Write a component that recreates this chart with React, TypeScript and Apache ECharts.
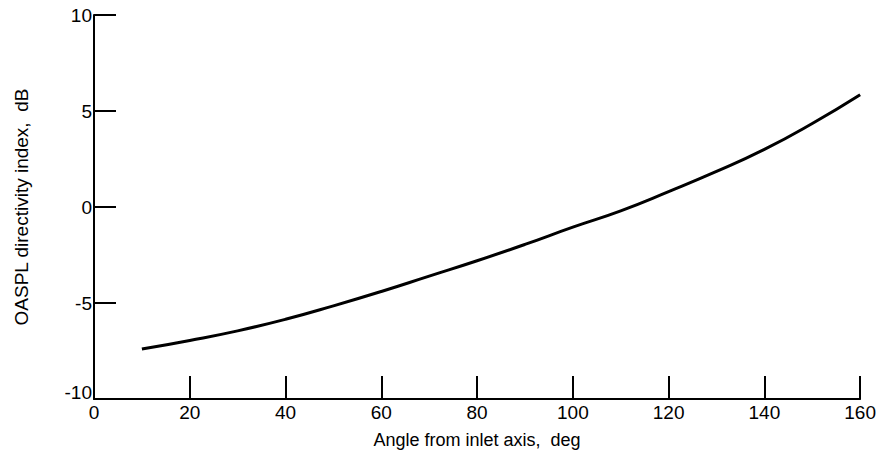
import React, { useEffect, useRef } from "react";
import * as echarts from "echarts";

const angles = [10, 20, 30, 40, 50, 60, 70, 80, 90, 100, 110, 120, 130, 140, 150, 160];
const directivity = [-7.4, -6.95, -6.45, -5.85, -5.15, -4.4, -3.6, -2.8, -1.95, -1.05, -0.2, 0.8, 1.85, 3.0, 4.35, 5.85];

const xName = "Angle from inlet axis,  deg";
const yName = "OASPL directivity index,  dB";

const FONT = "'Liberation Sans', Arial, sans-serif";

export default function App() {
  const ref = useRef<HTMLDivElement>(null);
  useEffect(() => {
    if (!ref.current) return;
    const chart = echarts.init(ref.current, undefined, { renderer: "svg" });
    chart.setOption({
      animation: false,
      backgroundColor: "#ffffff",
      grid: { left: 94, right: 17, top: 15, bottom: 58, containLabel: false },
      xAxis: {
        type: "value",
        min: 0,
        max: 160,
        interval: 20,
        name: xName,
        nameLocation: "middle",
        nameGap: 32,
        nameTextStyle: { color: "#000", fontSize: 18, fontFamily: FONT },
        axisLine: { show: true, onZero: false, lineStyle: { color: "#000", width: 2 } },
        axisTick: { show: true, inside: true, length: 23, lineStyle: { color: "#000", width: 2 } },
        axisLabel: { color: "#000", fontSize: 19, fontFamily: FONT, margin: 4 },
        splitLine: { show: false },
      },
      yAxis: {
        type: "value",
        min: -10,
        max: 10,
        interval: 5,
        name: yName,
        nameLocation: "middle",
        nameGap: 63,
        nameTextStyle: { color: "#000", fontSize: 19, fontFamily: FONT },
        axisLine: { show: true, onZero: false, lineStyle: { color: "#000", width: 2 } },
        axisTick: { show: true, inside: true, length: 22, lineStyle: { color: "#000", width: 2 } },
        axisLabel: {
          color: "#000",
          fontSize: 19,
          fontFamily: FONT,
          margin: 2,
          formatter: (v: number) => (v === -10 ? "{low|" + v + "}" : String(v)),
          rich: { low: { fontSize: 19, fontFamily: FONT, color: "#000", padding: [0, 0, 14, 0] } },
        },
        splitLine: { show: false },
      },
      series: [
        {
          type: "line",
          data: angles.map((a, i) => [a, directivity[i]]),
          smooth: true,
          showSymbol: false,
          lineStyle: { color: "#000", width: 3 },
        },
      ],
    });
    return () => chart.dispose();
  }, []);
  return <div ref={ref} style={{ width: 879, height: 457, position: "absolute", left: 0, top: 0 }} />;
}
